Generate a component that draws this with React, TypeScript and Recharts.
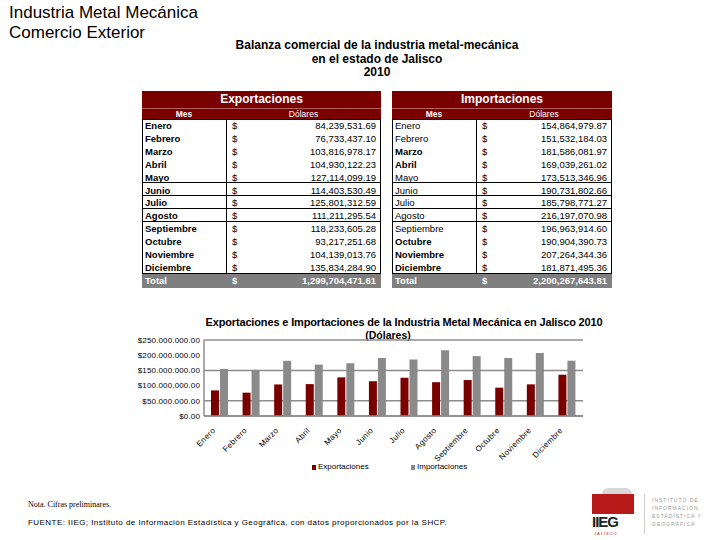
import React from 'react';
import { BarChart, Bar, XAxis, YAxis, CartesianGrid, Legend } from 'recharts';

const MONTHS = ['Enero', 'Febrero', 'Marzo', 'Abril', 'Mayo', 'Junio', 'Julio', 'Agosto', 'Septiembre', 'Octubre', 'Noviembre', 'Diciembre'];
const EXPORTS = [84239531.69, 76733437.10, 103816978.17, 104930122.23, 127114099.19, 114403530.49, 125801312.59, 111211295.54, 118233605.28, 93217251.68, 104139013.76, 135834284.90];
const IMPORTS = [154864979.87, 151532184.03, 181586081.97, 169039261.02, 173513346.96, 190731802.66, 185798771.27, 216197070.98, 196963914.60, 190904390.73, 207264344.36, 181871495.36];
const EXPORT_TOTAL = 1299704471.61;
const IMPORT_TOTAL = 2200267643.81;
const Y_TICKS = [0, 50000000, 100000000, 150000000, 200000000, 250000000];

const RED = '#7a0000';
const GRAY = '#8a8a8a';
const FONT = '"Liberation Sans", Arial, sans-serif';

const chartData = MONTHS.map((m, i) => ({ name: m, exp: EXPORTS[i], imp: IMPORTS[i] }));

const money = (v: number) =>
  v.toLocaleString('en-US', { minimumFractionDigits: 2, maximumFractionDigits: 2 });

const yFmt = (v: number) =>
  v === 0 ? '$0.00' : '$' + String(v).replace(/\B(?=(\d{3})+(?!\d))/g, '.') + '.00';

// rows after which a horizontal rule is drawn
const RULES = [4, 5, 6, 7];

const Table = ({ left, width, title, values, total, bold }: {
  left: number; width: number; title: string; values: number[]; total: number; bold: boolean[];
}) => {
  const top = 91;
  const mesW = 84;
  const rowH = 12.9;
  const bodyTop = 119;
  return (
    <div style={{ position: 'absolute', left, top, width, fontFamily: FONT }}>
      <div style={{ position: 'absolute', left: 0, top: 0, width, height: 17, background: RED, color: '#fff', fontWeight: 'bold', fontSize: 12, textAlign: 'center', lineHeight: '17px' }}>{title}</div>
      <div style={{ position: 'absolute', left: 0, top: 17, width, height: 11, background: RED, color: '#fff', fontSize: 8.5, lineHeight: '11px', borderTop: '1px solid #b56060', boxSizing: 'border-box' }}>
        <span style={{ position: 'absolute', left: 0, width: mesW, textAlign: 'center', fontWeight: 'bold' }}>Mes</span>
        <span style={{ position: 'absolute', left: mesW, width: width - mesW, textAlign: 'center' }}>Dólares</span>
      </div>
      <div style={{ position: 'absolute', left: 0, top: bodyTop - top, width, height: rowH * 12, border: '1px solid #000', boxSizing: 'border-box' }} />
      <div style={{ position: 'absolute', left: mesW, top: bodyTop - top, width: 1, height: rowH * 12, background: '#000' }} />
      {MONTHS.map((m, i) => (
        <div key={m} style={{ position: 'absolute', left: 0, top: bodyTop - top + i * rowH + 1, width, height: rowH, fontSize: 9.5, lineHeight: `${rowH}px`, color: '#000' }}>
          <span style={{ position: 'absolute', left: 3, fontWeight: bold[i] ? 'bold' : 'normal' }}>{m}</span>
          <span style={{ position: 'absolute', left: mesW + 6 }}>$</span>
          <span style={{ position: 'absolute', right: 5 }}>{money(values[i])}</span>
          {RULES.includes(i) && <div style={{ position: 'absolute', left: 0, bottom: 1, width, height: 1, background: '#000' }} />}
        </div>
      ))}
      <div style={{ position: 'absolute', left: 0, top: bodyTop - top + rowH * 12, width, height: 14, background: '#7f7f7f', color: '#fff', fontSize: 9.5, lineHeight: '14px' }}>
        <span style={{ position: 'absolute', left: 3, fontWeight: 'bold' }}>Total</span>
        <span style={{ position: 'absolute', left: mesW + 6, fontWeight: 'bold' }}>$</span>
        <span style={{ position: 'absolute', right: 5, fontWeight: 'bold' }}>{money(total)}</span>
      </div>
    </div>
  );
};

const XTick = (props: any) => {
  const { x, y, payload } = props;
  return (
    <g transform={`translate(${x - 4},${y + 7})`}>
      <text transform="rotate(-45)" textAnchor="end" fontSize={8} fill="#000" fontFamily={FONT} letterSpacing={0.3}>{payload.value}</text>
    </g>
  );
};

const LegendBox = () => (
  <div style={{ position: 'relative', height: 14, fontSize: 8, fontFamily: FONT, color: '#000' }}>
    <span style={{ position: 'absolute', left: 182, top: -1, width: 4, height: 5, background: RED }} />
    <span style={{ position: 'absolute', left: 188, top: -4 }}>Exportaciones</span>
    <span style={{ position: 'absolute', left: 281, top: -1, width: 4, height: 5, background: GRAY }} />
    <span style={{ position: 'absolute', left: 287, top: -4 }}>Importaciones</span>
  </div>
);

const Logo = () => (
  <div style={{ position: 'absolute', left: 588, top: 486, width: 132, height: 54, fontFamily: FONT }}>
    <div style={{ position: 'absolute', left: 14, top: 2, width: 30, height: 16, background: '#d8d8d8', borderRadius: 6 }} />
    <div style={{ position: 'absolute', left: 4, top: 8, width: 42, height: 20, background: '#b81a1a' }} />
    <div style={{ position: 'absolute', left: 4, top: 28, width: 42, fontSize: 15, fontWeight: 'bold', color: '#222', lineHeight: '16px', letterSpacing: -1 }}>IIEG</div>
    <div style={{ position: 'absolute', left: 6, top: 45, fontSize: 4, color: '#b81a1a', letterSpacing: 1 }}>JALISCO</div>
    <div style={{ position: 'absolute', left: 56, top: 8, width: 1, height: 40, background: '#ccc' }} />
    <div style={{ position: 'absolute', left: 64, top: 10, fontSize: 5, lineHeight: '8px', color: '#999', letterSpacing: 1 }}>
      INSTITUTO DE<br />INFORMACIÓN<br />ESTADÍSTICA Y<br />GEOGRÁFICA
    </div>
  </div>
);

export default function App() {
  return (
    <div style={{ position: 'absolute', left: 0, top: 0, width: 720, height: 540, background: '#fff', fontFamily: FONT, overflow: 'hidden' }}>
      <div style={{ position: 'absolute', left: 9, top: 3, fontSize: 17, lineHeight: '20px', color: '#000' }}>
        Industria Metal Mecánica<br />Comercio Exterior
      </div>
      <div style={{ position: 'absolute', left: 177, top: 39, width: 400, textAlign: 'center', fontSize: 12, fontWeight: 'bold', lineHeight: '13.5px' }}>
        Balanza comercial de la industria metal-mecánica<br />en el estado de Jalisco<br />2010
      </div>

      <Table left={142} width={239} title="Exportaciones" values={EXPORTS} total={EXPORT_TOTAL} bold={MONTHS.map(() => true)} />
      <Table left={392} width={220} title="Importaciones" values={IMPORTS} total={IMPORT_TOTAL}
        bold={[false, false, true, true, false, false, false, false, false, true, true, true]} />

      <div style={{ position: 'absolute', left: 184, top: 316, width: 440, textAlign: 'center', fontSize: 11, fontWeight: 'bold', lineHeight: '12px', letterSpacing: -0.15 }}>
        Exportaciones e Importaciones de la Industria Metal Mecánica en Jalisco 2010
      </div>
      <div style={{ position: 'absolute', left: 340, top: 329, width: 96, textAlign: 'center', fontSize: 10.5, fontWeight: 'bold', lineHeight: '12px' }}>
        (Dólares)
      </div>

      <div style={{ position: 'absolute', left: 130, top: 300 }}>
        <BarChart width={470} height={180} data={chartData} margin={{ top: 40, right: 17, bottom: 0, left: 0 }} barSize={8} barGap={1}>
          <CartesianGrid vertical={false} stroke="#8c8c8c" strokeWidth={1.5} />
          <XAxis dataKey="name" height={50} interval={0} tick={<XTick />} tickLine={false} axisLine={{ stroke: '#8c8c8c', strokeWidth: 1.5 }} />
          <YAxis width={74} domain={[0, 250000000]} ticks={Y_TICKS} tickFormatter={yFmt} tickSize={2} tickMargin={2} tickLine={false}
            axisLine={{ stroke: '#8c8c8c', strokeWidth: 1.5 }} tick={{ fontSize: 8, fill: '#000', fontFamily: FONT, letterSpacing: 0.15 }} />
          <Legend verticalAlign="bottom" height={14} content={<LegendBox />} />
          <Bar dataKey="exp" name="Exportaciones" fill={RED} isAnimationActive={false} />
          <Bar dataKey="imp" name="Importaciones" fill={GRAY} isAnimationActive={false} />
        </BarChart>
      </div>

      <div style={{ position: 'absolute', left: 28, top: 500, fontSize: 8, color: '#000', fontFamily: '"Liberation Serif", serif' }}>Nota. Cifras preliminares.</div>
      <div style={{ position: 'absolute', left: 28, top: 518, fontSize: 8, color: '#000', letterSpacing: 0.45 }}>
        FUENTE: IIEG; Instituto de Información Estadística y Geográfica, con datos proporcionados por la SHCP.
      </div>
      <Logo />
    </div>
  );
}
